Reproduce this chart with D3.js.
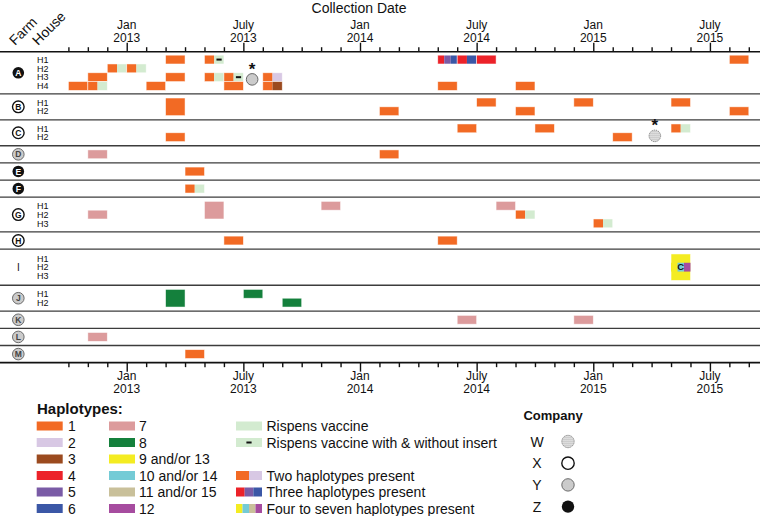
<!DOCTYPE html>
<html><head><meta charset="utf-8">
<script src="https://cdn.jsdelivr.net/npm/d3@7"></script>
<style>body{margin:0;background:#fff}svg{display:block;font-family:"Liberation Sans",Arial,Helvetica,sans-serif}</style>
</head><body><svg id="c" width="760" height="516"></svg>
<script>
// ---------- data ----------
const farms        = ["A","B","C","D","E","F","G","H","I","J","K","L","M"];
const farmHouses   = [4,2,2,1,1,1,3,1,3,2,1,1,1];
const farmCompany  = ["Z","X","X","Y","Z","Z","X","X","","Y","Y","Y","Y"];

const hapCodes  = ["1","2","3","4","5","6","7","8","9","10","11","12","R","Rd"];
const hapColors = ["#f26a24","#d8c8e4","#9b4a1f","#ec2229","#7a5ba6","#3b57a6","#dc9b9c","#14803c","#f4ec22","#74cbd6","#c9c09a","#a64c9f","#d3ebd0","#d3ebd0"];

// [farm, first house, houses spanned, month, haplotypes present, label]
const samples = [
  ["A",1,1,"2013-03",["1"]],
  ["A",1,1,"2013-05",["1","Rd"]],
  ["A",1,1,"2014-05",["4","5","6"]],
  ["A",1,1,"2014-06",["4","6"]],
  ["A",1,1,"2014-07",["4"]],
  ["A",1,1,"2015-08",["1"]],
  ["A",2,1,"2012-12",["1","R"]],
  ["A",2,1,"2013-01",["1","R"]],
  ["A",3,1,"2012-11",["1"]],
  ["A",3,1,"2013-03",["1"]],
  ["A",3,1,"2013-05",["1","R"]],
  ["A",3,1,"2013-06",["1","Rd"]],
  ["A",3,1,"2013-08",["1","2"]],
  ["A",4,1,"2012-10",["1"]],
  ["A",4,1,"2012-11",["1","R"]],
  ["A",4,1,"2013-02",["1"]],
  ["A",4,1,"2013-06",["1"]],
  ["A",4,1,"2013-08",["1","3"]],
  ["A",4,1,"2014-05",["1"]],
  ["A",4,1,"2014-09",["1"]],
  ["B",1,2,"2013-03",["1"]],
  ["B",2,1,"2014-02",["1"]],
  ["B",1,1,"2014-07",["1"]],
  ["B",2,1,"2014-09",["1"]],
  ["B",1,1,"2014-12",["1"]],
  ["B",1,1,"2015-05",["1"]],
  ["B",2,1,"2015-08",["1"]],
  ["C",2,1,"2013-03",["1"]],
  ["C",1,1,"2014-06",["1"]],
  ["C",1,1,"2014-10",["1"]],
  ["C",2,1,"2015-02",["1"]],
  ["C",1,1,"2015-05",["1","R"]],
  ["D",1,1,"2012-11",["7"]],
  ["D",1,1,"2014-02",["1"]],
  ["E",1,1,"2013-04",["1"]],
  ["F",1,1,"2013-04",["1","R"]],
  ["G",2,1,"2012-11",["7"]],
  ["G",1,2,"2013-05",["7"]],
  ["G",1,1,"2013-11",["7"]],
  ["G",1,1,"2014-08",["7"]],
  ["G",2,1,"2014-09",["1","R"]],
  ["G",3,1,"2015-01",["1","R"]],
  ["H",1,1,"2013-06",["1"]],
  ["H",1,1,"2014-05",["1"]],
  ["I",1,3,"2015-05",["9"]],
  ["I",2,1,"2015-05",["9","10","12"],"C"],
  ["J",1,2,"2013-03",["8"]],
  ["J",1,1,"2013-07",["8"]],
  ["J",2,1,"2013-09",["8"]],
  ["K",1,1,"2014-06",["7"]],
  ["K",1,1,"2014-12",["7"]],
  ["L",1,1,"2012-11",["7"]],
  ["M",1,1,"2013-04",["1"]]
];

// vaccination markers: [farm, house position (in house rows), date, company]
const vaccMarkers = [
  ["A",2.75,"2013-07-15","Y"],
  ["C",1.35,"2015-04-06","W"]
];

const tickMonths = d3.range(-3,33);   // Oct 2012 .. Sep 2015 (0 = Jan 2013)
const monthNames = ["Jan","","","","","","July","","","","",""];

const legendCol1Codes  = ["1","2","3","4","5","6"];
const legendCol1Labels = ["1","2","3","4","5","6"];
const legendCol2Codes  = ["7","8","9","10","11","12"];
const legendCol2Labels = ["7","8","9 and/or 13","10 and/or 14","11 and/or 15","12"];
const legendCol3 = [
  {codes:["R"], label:"Rispens vaccine", row:0},
  {codes:["Rd"], label:"Rispens vaccine with & without insert", row:1},
  {codes:["1","2"], label:"Two haplotypes present", row:3},
  {codes:["4","5","6"], label:"Three haplotypes present", row:4},
  {codes:["9","10","11","12"], label:"Four to seven haplotypes present", row:5}
];
const companies = ["W","X","Y","Z"];

// ---------- helpers ----------
const color = d3.scaleOrdinal().domain(hapCodes).range(hapColors);
const mIdx = s => {
  const p = s.split("-").map(Number);
  let v = (p[0]-2013)*12 + (p[1]-1);
  if (p[2]) { const dim = new Date(Date.UTC(p[0],p[1],0)).getUTCDate(); v += (p[2]-1)/dim; }
  return v;
};

const W = 760, AX_TOP = 51.7, SUB = 8.8, PAD = 8.35;
const x = d3.scaleLinear().domain([-3,32]).range([68.4,748.8]);

let cur = AX_TOP;
const rows = farms.map((f,i)=>{
  const h = farmHouses[i]*SUB + PAD - (i===0 ? 1.4 : 0) + (i===8 ? 1.4 : 0);
  const r={farm:f,top:cur,h,n:farmHouses[i],company:farmCompany[i]}; cur+=h; return r; });
const AX_BOT = cur;
const rowBy = new Map(rows.map(r=>[r.farm,r]));
const yHouse = (farm,pos) => { const r = rowBy.get(farm); return r.top + (r.h - r.n*SUB)/2 + pos*SUB; };

const svg = d3.select("#c");
const defs = svg.append("defs");
const pat = defs.append("pattern").attr("id","dots").attr("patternUnits","userSpaceOnUse").attr("width",2).attr("height",2);
pat.append("rect").attr("width",2).attr("height",2).attr("fill","#fff");
pat.append("circle").attr("cx",1).attr("cy",1).attr("r",0.6).attr("fill","#444");

function companyCircle(g, cx, cy, r, comp){
  const c = g.append("circle").attr("cx",cx).attr("cy",cy).attr("r",r);
  if (comp==="Z") c.attr("fill","#111");
  else if (comp==="X") c.attr("fill","#fff").attr("stroke","#111").attr("stroke-width",1.4);
  else if (comp==="Y") c.attr("fill","#cbcbcb").attr("stroke","#6a6a6a").attr("stroke-width",1);
  else if (comp==="W") c.attr("fill","url(#dots)").attr("stroke","#555").attr("stroke-width",0.8).attr("stroke-dasharray","1,1");
  return c;
}

// ---------- title & header ----------
svg.append("text").attr("x",359).attr("y",13).attr("text-anchor","middle").attr("font-size",14).attr("fill","#111").text("Collection Date");
svg.append("text").attr("transform","translate(15,46) rotate(-45)").attr("font-size",14).attr("fill","#111").text("Farm");
svg.append("text").attr("transform","translate(38,46) rotate(-45)").attr("font-size",14).attr("fill","#111").text("House");

// ---------- axes ----------
function drawAxis(y, dir){
  const ax = (dir<0 ? d3.axisTop(x) : d3.axisBottom(x)).tickValues(tickMonths).tickSize(4.5).tickFormat("");
  const g = svg.append("g").attr("transform",`translate(0,${y})`).call(ax);
  g.select(".domain").remove();
  g.selectAll(".tick line").attr("y2", d => dir*((d%6===0)?9:4.5)).attr("stroke","#111").attr("stroke-width",1.4);
  svg.append("line").attr("x1",0).attr("x2",W).attr("y1",y).attr("y2",y).attr("stroke","#111").attr("stroke-width",1.6);
  const majors = tickMonths.filter(d=>d%6===0);
  const lab = svg.append("g").attr("font-size",12).attr("fill","#111").attr("text-anchor","middle");
  const base = dir<0 ? y-22.7 : y+17.5;
  majors.forEach(d=>{
    lab.append("text").attr("x",x(d)).attr("y",base).text(monthNames[((d%12)+12)%12]);
    lab.append("text").attr("x",x(d)).attr("y",base+13).text(2013+Math.floor(d/12));
  });
}
drawAxis(AX_TOP,-1);
drawAxis(AX_BOT,1);

// ---------- row separators ----------
svg.append("g").selectAll("line").data(rows.slice(1)).join("line")
  .attr("x1",0).attr("x2",W).attr("y1",d=>d.top).attr("y2",d=>d.top)
  .attr("stroke","#3c3c3c").attr("stroke-width",1.3);

// ---------- farm & house labels ----------
const lg = svg.append("g");
rows.forEach(r=>{
  const cy = r.top + r.h/2;
  if (r.company){
    companyCircle(lg,18.3,cy,5.8,r.company);
    lg.append("text").attr("x",18.3).attr("y",cy+3.1).attr("text-anchor","middle").attr("font-size",8.5).attr("font-weight","bold")
      .attr("fill", r.company==="Z" ? "#fff" : (r.company==="Y" ? "#444" : "#111")).text(r.farm);
  } else {
    lg.append("text").attr("x",18.3).attr("y",cy+3.5).attr("text-anchor","middle").attr("font-size",10).attr("fill","#111").text(r.farm);
  }
  if (r.n>1){
    d3.range(r.n).forEach(i=>{
      lg.append("text").attr("x",37).attr("y",yHouse(r.farm,i+0.5)+3.2).attr("font-size",9).attr("fill","#111").text("H"+(i+1));
    });
  }
});

// ---------- sample cells ----------
const cg = svg.append("g");
samples.forEach(s=>{
  const [farm,house,span,month,haps,label] = s;
  const m = mIdx(month);
  const x0 = x(m), w = x(m+1)-x(m);
  const y0 = yHouse(farm,house-1), h = span*SUB;
  const sw = w/haps.length;
  haps.forEach((c,i)=>{
    cg.append("rect").attr("x",x0+i*sw).attr("y",y0).attr("width",sw).attr("height",h).attr("fill",color(c));
    if (c==="Rd") cg.append("rect").attr("x",x0+i*sw+sw/2-2.6).attr("y",y0+h/2-1).attr("width",5.2).attr("height",2).attr("fill","#111");
  });
  if (label){
    cg.append("text").attr("x",x0+w/2).attr("y",y0+h/2+3.3).attr("text-anchor","middle").attr("font-size",9.5).attr("font-weight","bold").attr("fill","#111").text(label);
  } else {
    cg.append("rect").attr("x",x0).attr("y",y0).attr("width",w).attr("height",h).attr("fill","none").attr("stroke","#fff").attr("stroke-opacity",0.7).attr("stroke-width",0.7);
  }
});

// ---------- vaccination markers ----------
vaccMarkers.forEach(([farm,pos,date,comp])=>{
  const cx = x(mIdx(date)), cy = yHouse(farm,pos);
  companyCircle(cg,cx,cy,5.8,comp);
  cg.append("text").attr("x",cx).attr("y",cy-4.5).attr("text-anchor","middle").attr("font-size",17).attr("font-weight","bold").attr("fill","#111").text("*");
});

// ---------- legend ----------
const leg = svg.append("g").attr("font-size",14).attr("fill","#111");
leg.append("text").attr("x",37).attr("y",413.5).attr("font-size",15).attr("font-weight","bold").text("Haplotypes:");
const LY0 = 426, LDY = 16.5, SWW = 26, SWH = 9;
function swatch(xs, yc, codes){
  const sw = SWW/codes.length;
  codes.forEach((c,i)=>{
    leg.append("rect").attr("x",xs+i*sw).attr("y",yc-SWH/2).attr("width",sw).attr("height",SWH).attr("fill",color(c));
    if (c==="Rd") leg.append("rect").attr("x",xs+sw/2-2.6).attr("y",yc-1).attr("width",5.2).attr("height",2).attr("fill","#111");
  });
}
legendCol1Codes.forEach((c,i)=>{ const yc=LY0+i*LDY; swatch(36.7,yc,[c]); leg.append("text").attr("x",68).attr("y",yc+5).text(legendCol1Labels[i]); });
legendCol2Codes.forEach((c,i)=>{ const yc=LY0+i*LDY; swatch(109,yc,[c]); leg.append("text").attr("x",139).attr("y",yc+5).text(legendCol2Labels[i]); });
legendCol3.forEach(d=>{ const yc=LY0+d.row*LDY; swatch(236,yc,d.codes); leg.append("text").attr("x",266.5).attr("y",yc+5).text(d.label); });

leg.append("text").attr("x",553).attr("y",420).attr("text-anchor","middle").attr("font-size",13).attr("font-weight","bold").text("Company");
companies.forEach((c,i)=>{
  const yc = 441.5 + i*21.7;
  leg.append("text").attr("x",537).attr("y",yc+5).attr("text-anchor","middle").text(c);
  companyCircle(leg,568,yc,6.2,c);
});
</script>
</body></html>
